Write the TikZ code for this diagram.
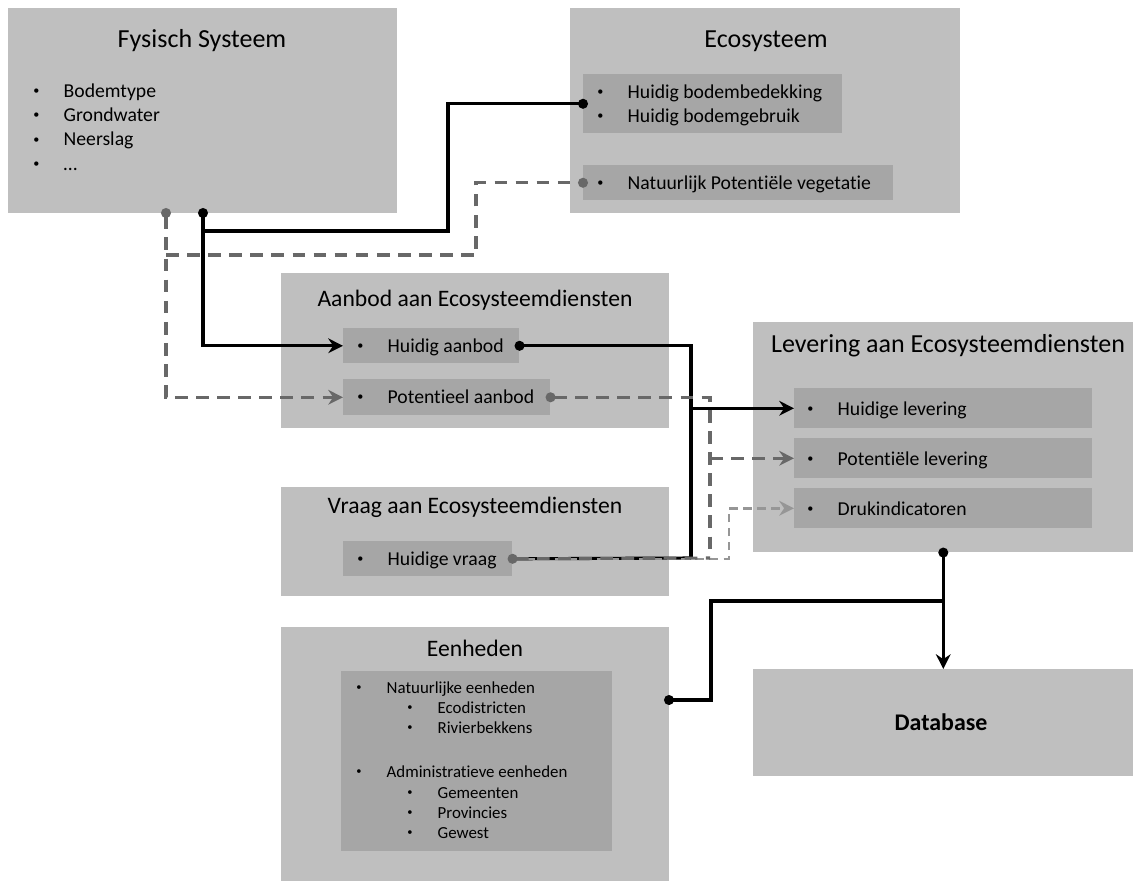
\documentclass[tikz,border=0pt]{standalone}
\usepackage{fontspec}
\setmainfont{Carlito}[Ligatures=NoCommon]
\usetikzlibrary{arrows.meta}

\definecolor{boxgray}{HTML}{BFBFBF}
\definecolor{innergray}{HTML}{A6A6A6}
\definecolor{dashgray}{HTML}{686868}
\definecolor{lightdashgray}{HTML}{969696}
\def\pxu{0.025cm}
\newcommand\bul{\makebox[0.76cm][l]{\raisebox{0.13em}{\scalebox{0.62}{\textbullet}}}}

\tikzset{
  outerbox/.style={fill=boxgray, anchor=north west, inner sep=0pt},
  innerbox/.style={fill=innergray, anchor=north west, inner sep=0pt},
  bigtitle/.style={anchor=base, inner sep=0pt, font=\fontsize{18.5}{22}\selectfont},
  midtitle/.style={anchor=base, inner sep=0pt, font=\fontsize{16.8}{20}\selectfont},
  itemtext/.style={anchor=base west, inner sep=0pt, font=\fontsize{14}{17}\selectfont},
  smallitem/.style={anchor=base west, inner sep=0pt, font=\fontsize{12}{14}\selectfont},
  solidline/.style={line width=2.2pt, black},
  dashline/.style={line width=2.2pt, dashgray, dash pattern=on 9pt off 6pt},
  lightline/.style={line width=1.8pt, lightdashgray, dash pattern=on 6pt off 4pt},
  linedot/.tip={Circle[length=7pt]},
  linehead/.tip={Stealth[length=10.5pt, width=10.5pt, inset=3.5pt]},
}

\begin{document}
\begin{tikzpicture}[x=\pxu, y=-\pxu]
		\useasboundingbox (0,0) rectangle (1135,881);
		
		%%%%% BOXES %%%%%
		
		% Fysisch Systeem
		\node[outerbox, minimum width=389*\pxu, minimum height=205*\pxu] (fysisch) at (8,8) {};
		\node[bigtitle] (fysischtitle) at (202,47) {Fysisch Systeem};
		\foreach \txt [count=\i] in {Bodemtype, Grondwater, Neerslag, \dots}
			\node[itemtext] (fys-\i) at (33,{97+24.4*(\i-1)}) {\bul\txt};
		
		% Ecosysteem
		\node[outerbox, minimum width=390*\pxu, minimum height=205*\pxu] (eco) at (570,8) {};
		\node[bigtitle] (ecotitle) at (766,47) {Ecosysteem};
		\node[innerbox, minimum width=259*\pxu, minimum height=59*\pxu] (bodem) at (583,74) {};
		\node[itemtext] (bodem-1) at (597,98) {\bul Huidig bodembedekking};
		\node[itemtext] (bodem-2) at (597,122) {\bul Huidig bodemgebruik};
		\node[innerbox, minimum width=310*\pxu, minimum height=35*\pxu] (vegetatie) at (583,165) {};
		\node[itemtext] (vegetatietext) at (597,189) {\bul Natuurlijk Potentiële vegetatie};
		
		% Aanbod
		\node[outerbox, minimum width=388*\pxu, minimum height=155*\pxu] (aanbod) at (281,273) {};
		\node[midtitle] (aanbodtitle) at (475,306) {Aanbod aan Ecosysteemdiensten};
		\node[innerbox, minimum width=176*\pxu, minimum height=35*\pxu] (huidaanbod) at (343,328) {};
		\node[itemtext] (huidaanbodtext) at (357,352) {\bul Huidig aanbod};
		\node[innerbox, minimum width=207*\pxu, minimum height=36*\pxu] (potaanbod) at (343,379) {};
		\node[itemtext] (potaanbodtext) at (357,403) {\bul Potentieel aanbod};
		
		% Vraag
		\node[outerbox, minimum width=388*\pxu, minimum height=109*\pxu] (vraag) at (281,487) {};
		\node[midtitle] (vraagtitle) at (475,513) {Vraag aan Ecosysteemdiensten};
		\node[innerbox, minimum width=169*\pxu, minimum height=35*\pxu] (huidvraag) at (343,541) {};
		\node[itemtext] (huidvraagtext) at (357,565) {\bul Huidige vraag};
		
		% Levering
		\node[outerbox, minimum width=380*\pxu, minimum height=230*\pxu] (levering) at (753,322) {};
		\node[bigtitle] (leveringtitle) at (948,352) {Levering aan Ecosysteemdiensten};
		\node[innerbox, minimum width=298*\pxu, minimum height=40*\pxu] (huidlev) at (794,388) {};
		\node[itemtext] (huidlevtext) at (807,415) {\bul Huidige levering};
		\node[innerbox, minimum width=298*\pxu, minimum height=40*\pxu] (potlev) at (794,438) {};
		\node[itemtext] (potlevtext) at (807,465) {\bul Potentiële levering};
		\node[innerbox, minimum width=298*\pxu, minimum height=40*\pxu] (drukind) at (794,488) {};
		\node[itemtext] (drukindtext) at (807,515) {\bul Drukindicatoren};
		
		% Database
		\node[outerbox, minimum width=380*\pxu, minimum height=107*\pxu] (database) at (753,669) {};
		\node[anchor=base, inner sep=0pt, font=\fontsize{17}{20}\selectfont\bfseries] (databasetext) at (941,730) {Database};
		
		% Eenheden
		\node[outerbox, minimum width=388*\pxu, minimum height=254*\pxu] (eenheden) at (281,627) {};
		\node[midtitle] (eenhedentitle) at (475,656) {Eenheden};
		\node[innerbox, minimum width=271*\pxu, minimum height=180*\pxu] (eenlijst) at (341,671) {};
		\node[smallitem] (een-1) at (356,693) {\bul Natuurlijke eenheden};
		\node[smallitem] (een-2) at (407,713) {\bul Ecodistricten};
		\node[smallitem] (een-3) at (407,733) {\bul Rivierbekkens};
		\node[smallitem] (een-4) at (356,777) {\bul Administratieve eenheden};
		\node[smallitem] (een-5) at (407,798) {\bul Gemeenten};
		\node[smallitem] (een-6) at (407,818) {\bul Provincies};
		\node[smallitem] (een-7) at (407,838) {\bul Gewest};
		
		%%%%% CONNECTORS %%%%%
		
		\coordinate (fysA) at (203,213);
		\coordinate (fysB) at (166,213);
		\coordinate (knik1) at (448,231);
		\coordinate (knik2) at (476,255);
		\coordinate (rail1) at (691,558);
		\coordinate (rail2) at (710,558);
		\coordinate (rail3) at (729,558);
		\coordinate (eenout) at (669,700);
		\coordinate (knik3) at (711,601);
		
		% fysisch naar aanbod en ecosysteem
		\draw[solidline, arrows={linedot-linehead}, shorten <=-3.5pt] (fysA) |- (huidaanbod.west);
		\draw[solidline, arrows={-linedot}, shorten >=-3.5pt] (fysA |- knik1) -- (knik1) |- (bodem.west);
		\draw[dashline, arrows={linedot-linehead}, shorten <=-3.5pt] (fysB) |- (potaanbod.west);
		\draw[dashline, arrows={-linedot}, shorten >=-3.5pt] (fysB |- knik2) -- (knik2) |- (vegetatie.west);
		
		% aanbod en vraag naar levering
		\draw[solidline, arrows={linedot-}, shorten <=-3.5pt] (huidaanbod.east) -| (rail1);
		\draw[solidline, arrows={-linehead}] (rail1 |- huidlev.west) -- (huidlev.west);
		\draw[dashline, arrows={linedot-}, shorten <=-3.5pt] (potaanbod.east) -| (rail2);
		\draw[dashline, arrows={-linehead}] (rail2 |- potlev.west) -- (potlev.west);
		\draw[solidline] (huidvraag.east) -- (rail1);
		\draw[lightline, arrows={-linehead}] (huidvraag.east) -| (rail3 |- drukind.west) -- (drukind.west);
		\draw[dashline, arrows={linedot-}, shorten <=-3.5pt] (huidvraag.east) -- (rail2);
		
		% levering en eenheden naar database
		\draw[solidline, arrows={linedot-linehead}, shorten <=-3.5pt] (levering.south) -- (database.north);
		\draw[solidline, arrows={linedot-}, shorten <=-3.5pt] (eenout) -| (knik3) -- (levering.south |- knik3);
		
\end{tikzpicture}
\end{document}
